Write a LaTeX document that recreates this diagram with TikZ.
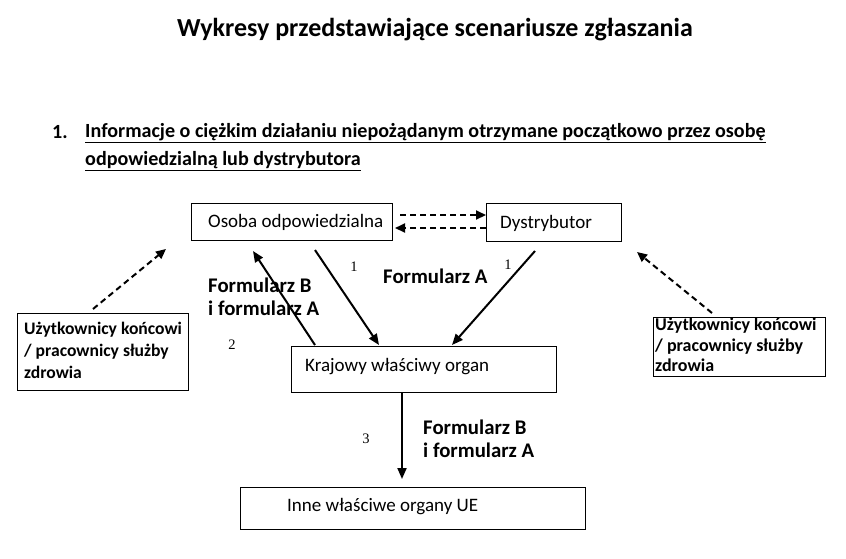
\documentclass[tikz,border=0pt]{standalone}
\usepackage{fontspec}
\setmainfont{Carlito}
\newfontfamily\serifnum{Liberation Serif}
\usetikzlibrary{arrows.meta}
\begin{document}
\begin{tikzpicture}[x=1pt,y=-1pt,
  box/.style={draw,line width=1pt,rectangle,inner sep=0pt},
  txt/.style={anchor=west,inner sep=0pt,font=\fontsize{19}{22}\selectfont},
  btxt/.style={anchor=west,inner sep=0pt,align=left,font=\fontsize{20.8}{23.5}\selectfont\bfseries},
  utxt/.style={anchor=north west,inner sep=0pt,align=left,font=\fontsize{17.6}{22}\selectfont\bfseries},
  num/.style={inner sep=0pt,font=\fontsize{14.5}{16}\selectfont\serifnum},
  solidarrow/.style={line width=2pt,-{Triangle[length=11pt,width=9pt]}},
  dasharrow/.style={line width=2pt,dash pattern=on 6pt off 4pt,-{Triangle[length=10pt,width=9pt]}}]
\useasboundingbox (0,0) rectangle (846,558);
% title and heading
\node[inner sep=0pt,font=\fontsize{26}{30}\selectfont\bfseries] (title) at (435,30) {Wykresy przedstawiające scenariusze zgłaszania};
\node[anchor=west,inner sep=0pt,font=\fontsize{20.1}{24}\selectfont\bfseries] (hnum) at (52,132) {1.};
\node[anchor=west,inner sep=0pt,align=left,font=\fontsize{20.1}{28}\selectfont\bfseries] (head) at (85,147) {\underline{Informacje o ciężkim działaniu niepożądanym otrzymane początkowo przez osobę}\\\underline{odpowiedzialną lub dystrybutora}};
% boxes
\node[box,minimum width=201pt,minimum height=37pt] (osoba) at (291.5,221.5) {};
\node[txt] (osobat) at (208,222) {Osoba odpowiedzialna};
\node[box,minimum width=135pt,minimum height=38pt] (dystr) at (553.5,222.5) {};
\node[txt] (dystrt) at (500,223) {Dystrybutor};
\node[box,minimum width=265pt,minimum height=46pt] (kraj) at (423.5,369) {};
\node[txt] (krajt) at (305,367) {Krajowy właściwy organ};
\node[box,minimum width=345pt,minimum height=42pt] (inne) at (413,508) {};
\node[txt] (innet) at (287,507) {Inne właściwe organy UE};
\node[box,minimum width=171pt,minimum height=77pt] (userl) at (102.5,351.5) {};
\node[utxt] (userlt) at (24,322) {Użytkownicy końcowi\\/ pracownicy służby\\zdrowia};
\node[box,minimum width=172pt,minimum height=59pt] (userr) at (739,346.5) {};
\node[utxt,font=\fontsize{18}{20.5}\selectfont\bfseries] (userrt) at (655,318) {Użytkownicy końcowi\\/ pracownicy służby\\zdrowia};
% arrow end points
\coordinate (a1s) at (400,215); \coordinate (a1e) at (486,215);
\coordinate (a2s) at (486,228); \coordinate (a2e) at (395,228);
\coordinate (b1s) at (315,250); \coordinate (b1e) at (379,345);
\coordinate (b2s) at (315,345); \coordinate (b2e) at (253,251);
\coordinate (b3s) at (535,251); \coordinate (b3e) at (452,345);
\coordinate (b4s) at (402,393); \coordinate (b4e) at (402,479);
\coordinate (c1s) at (93,309); \coordinate (c1e) at (166,249);
\coordinate (c2s) at (712,313); \coordinate (c2e) at (637,252);
\draw[dasharrow] (a1s) -- (a1e);
\draw[dasharrow] (a2s) -- (a2e);
\draw[solidarrow] (b1s) -- (b1e);
\draw[solidarrow] (b2s) -- (b2e);
\draw[solidarrow] (b3s) -- (b3e);
\draw[solidarrow] (b4s) -- (b4e);
\draw[dasharrow] (c1s) -- (c1e);
\draw[dasharrow] (c2s) -- (c2e);
% labels
\node[num] (n1a) at (354,267) {1};
\node[num] (n1b) at (508,265) {1};
\node[num] (n2) at (232,345) {2};
\node[num] (n3) at (366,439) {3};
\node[btxt] (fa) at (383,276) {Formularz A};
\node[btxt] (fb1) at (208,297) {Formularz B\\i formularz A};
\node[btxt] (fb2) at (423,439) {Formularz B\\i formularz A};
\end{tikzpicture}
\end{document}
